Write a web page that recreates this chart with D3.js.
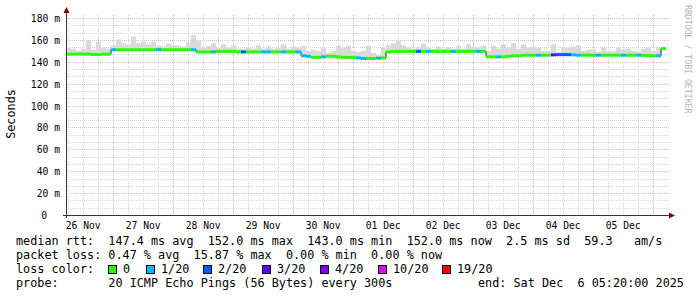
<!DOCTYPE html>
<html>
<head>
<meta charset="utf-8">
<script src="https://cdn.jsdelivr.net/npm/d3@7"></script>
<style>
  html, body { margin: 0; padding: 0; background: #fff; }
  svg { display: block; }
  text { font-family: "DejaVu Sans Mono", monospace; white-space: pre; }
</style>
</head>
<body>
<svg id="chart" width="697" height="297"></svg>
<script>
// graph window ends Sat Dec 6 05:20:00 2025, 240 h shown, one bin = 2 h
var endTime = Date.UTC(2025, 11, 6, 5, 20);
var spanHours = 240;
var binHours = 2;

// median rtt per bin (ms)
var median = [
  147, 147, 147, 147, 147, 146.6, 146.6, 147, 147,
  151, 151, 151, 151, 151, 151, 151, 151, 151, 151, 151, 151, 151, 151, 151, 151, 151,
  149, 149, 149, 149, 149.5, 149.5, 149.5, 149.5, 149, 149, 149, 149, 149, 149, 149, 149, 149, 149, 149, 149, 149,
  145.5, 145, 144, 144, 144.5, 145, 145, 144.5, 144, 144, 144, 143.5, 143, 143, 143, 143.3, 143.5,
  149, 149.5, 149.5, 149.5, 149.5, 149.5, 149.5, 149.5, 149.5, 149.5, 149.5, 149.5, 149.5, 149.5, 149.5, 149.5, 149.5, 149.5, 149.5, 149.5,
  144.5, 144.5, 144.5, 144.5, 145, 145.5, 145.5, 146, 146, 146, 146,
  146, 146, 146.3, 146.5, 146.5, 146.5, 146.3, 146, 146, 146, 146, 146, 146, 146, 146, 146, 146, 146, 146, 146, 145.8, 145.5, 145.5, 145.5, 152
];

// top of the smoke (highest ping) per bin (ms)
var smokeTop = [
  153, 152, 150, 152, 160, 151, 158, 153, 152,
  155, 160.5, 157, 156, 163, 157, 158.5, 156, 158.5, 155, 154, 156.5, 155, 155, 154, 158, 164.5,
  159, 153, 154.6, 157, 153, 156, 153, 155, 152, 152, 153, 152, 155, 152, 154.6, 152, 152.5, 156, 152, 154, 153,
  154.6, 150, 151, 150, 152.4, 148, 150, 154.6, 153, 154.6, 150, 149, 150, 154.6, 148, 146, 152.7,
  155, 157, 159.2, 155, 153, 152, 153, 156.6, 153, 152, 154, 152, 153.5, 152, 154.5, 152, 156, 154, 153, 155,
  150, 154.6, 152, 156, 153, 157, 152, 156, 153, 154, 153,
  150, 150, 156, 149, 153, 153, 154, 155, 150, 151, 151.5, 149, 153, 150, 150, 153, 151, 152, 150, 149, 152, 153, 150, 153.5, 153
];

// lost pings out of 20 per bin
var lossCount = [
  0, 0, 0, 0, 0, 0, 0, 0, 0, 1,
  0, 0, 0, 0, 0, 0, 0, 0, 1, 0,
  0, 0, 0, 0, 0, 1, 0, 0, 0, 1,
  0, 0, 0, 0, 0, 2, 0, 0, 0, 1,
  1, 0, 0, 1, 0, 0, 1, 1, 1, 0,
  0, 1, 0, 0, 0, 0, 0, 0, 1, 1,
  0, 0, 1, 0, 0, 0, 0, 0, 0, 0,
  2, 0, 1, 0, 0, 0, 0, 1, 0, 0,
  0, 0, 1, 0, 0, 0, 1, 0, 0, 0,
  0, 0, 0, 0, 1, 0, 0, 3, 2, 2,
  2, 1, 1, 0, 0, 0, 1, 0, 0, 0,
  0, 1, 0, 0, 1, 0, 0, 0, 1, 0
];

var yTicks = [0, 20, 40, 60, 80, 100, 120, 140, 160, 180];
var yTickLabels = ["0", "20 m", "40 m", "60 m", "80 m", "100 m", "120 m", "140 m", "160 m", "180 m"];

var lossLevels = [0, 1, 2, 3, 4, 10, 19];
var lossLabels = ["0", "1/20", "2/20", "3/20", "4/20", "10/20", "19/20"];
var lossColors = ["#26ff00", "#00b8ff", "#0059ff", "#5e00ff", "#7e00ff", "#dd00ff", "#ff0000"];

var statsRtt = "median rtt:  147.4 ms avg  152.0 ms max  143.0 ms min  152.0 ms now  2.5 ms sd  59.3   am/s";
var statsLoss = "packet loss: 0.47 % avg  15.87 % max  0.00 % min  0.00 % now";
var probeText = "probe:       20 ICMP Echo Pings (56 Bytes) every 300s";
var endText = "end: Sat Dec  6 05:20:00 2025";

var svg = d3.select("#chart");
var startTime = endTime - spanHours * 3600e3;

var x = d3.scaleUtc().domain([startTime, endTime]).range([66, 666]);
var y = d3.scaleLinear().domain([0, 180]).range([215, 18]);
var plotTop = 15, gridRight = 669;

var bins = median.map(function(m, i) {
  var t0 = startTime + i * binHours * 3600e3;
  return { t0: t0, t1: t0 + binHours * 3600e3, med: m, top: smokeTop[i], loss: lossCount[i] };
});

function lossColor(c) {
  var col = lossColors[0];
  lossLevels.forEach(function(l, i) { if (c >= l) col = lossColors[i]; });
  return col;
}
function crisp(v) { return Math.round(v) + 0.5; }

/* grid */
var grid = svg.append("g").attr("class", "grid");
var minorY = d3.range(0, 181, 20 / 3).filter(function(v) { return Math.abs(v / 20 - Math.round(v / 20)) > 0.01; });
grid.selectAll("line.hmin").data(minorY).enter().append("line")
  .attr("x1", 66).attr("x2", gridRight)
  .attr("y1", function(d) { return crisp(y(d)); }).attr("y2", function(d) { return crisp(y(d)); })
  .attr("stroke", "#d8d8d8").attr("stroke-dasharray", "1,1");

var sixHours = d3.utcHour.every(6).range(new Date(startTime), new Date(endTime))
  .filter(function(d) { return d.getUTCHours() != 0; });
grid.selectAll("line.vmin").data(sixHours).enter().append("line")
  .attr("x1", function(d) { return crisp(x(d)); }).attr("x2", function(d) { return crisp(x(d)); })
  .attr("y1", plotTop).attr("y2", 215)
  .attr("stroke", "#d8d8d8").attr("stroke-dasharray", "1,1");

grid.selectAll("line.hmaj").data(yTicks.slice(1)).enter().append("line")
  .attr("x1", 66).attr("x2", gridRight)
  .attr("y1", function(d) { return crisp(y(d)); }).attr("y2", function(d) { return crisp(y(d)); })
  .attr("stroke", "#f0b8b8").attr("stroke-dasharray", "1,1");

var days = d3.utcDay.range(new Date(startTime), new Date(endTime));
grid.selectAll("line.vmaj").data(days).enter().append("line")
  .attr("x1", function(d) { return crisp(x(d)); }).attr("x2", function(d) { return crisp(x(d)); })
  .attr("y1", plotTop).attr("y2", 215)
  .attr("stroke", "#f0b8b8").attr("stroke-dasharray", "1,1");

/* smoke */
svg.append("g").selectAll("rect").data(bins).enter().append("rect")
  .attr("x", function(d) { return x(d.t0); })
  .attr("width", function(d) { return x(d.t1) - x(d.t0); })
  .attr("y", function(d) { return y(d.top); })
  .attr("height", function(d) { return y(d.med) - y(d.top) + 1; })
  .attr("fill", "#dadada");

/* median step line, then loss coloured segments */
var stepPts = bins.map(function(d) { return [d.t0, d.med]; });
stepPts.push([endTime, bins[bins.length - 1].med]);
svg.append("path")
  .attr("d", d3.line().curve(d3.curveStepAfter)
    .x(function(d) { return x(d[0]); }).y(function(d) { return y(d[1]); })(stepPts))
  .attr("fill", "none").attr("stroke", "#222").attr("stroke-width", 1);

svg.append("g").selectAll("rect").data(bins).enter().append("rect")
  .attr("x", function(d) { return x(d.t0); })
  .attr("width", function(d) { return x(d.t1) - x(d.t0); })
  .attr("y", function(d) { return y(d.med) - 1.5; })
  .attr("height", 3)
  .attr("fill", function(d) { return lossColor(d.loss); });

/* axes */
var yAxis = svg.append("g").attr("transform", "translate(60,0)")
  .call(d3.axisLeft(y).tickValues(yTicks).tickSize(0).tickPadding(0)
    .tickFormat(function(d, i) { return yTickLabels[i]; }));
yAxis.select(".domain").remove();
yAxis.selectAll("text").attr("font-family", "DejaVu Sans Mono").attr("font-size", 9.7)
  .attr("fill", "#000").attr("dy", "0.36em")
  .attr("x", function(d) { return d == 0 ? -13 : 0; });

var noons = days.concat([new Date(startTime)]).map(function(d) {
  return d3.utcDay.floor(d).getTime() + 12 * 3600e3;
}).filter(function(t, i, a) { return a.indexOf(t) == i && t > startTime && t < endTime; })
  .sort(d3.ascending);
var xAxis = svg.append("g").attr("transform", "translate(0,215)")
  .call(d3.axisBottom(x).tickValues(noons).tickSize(0).tickPadding(0)
    .tickFormat(d3.utcFormat("%d %b")));
xAxis.select(".domain").remove();
xAxis.selectAll("text").attr("font-family", "DejaVu Sans Mono").attr("font-size", 9.7)
  .attr("fill", "#000").attr("dy", null).attr("y", 13.5);

svg.append("line").attr("x1", 63).attr("x2", 670).attr("y1", 215.5).attr("y2", 215.5)
  .attr("stroke", "#333");
svg.append("line").attr("x1", 66.5).attr("x2", 66.5).attr("y1", 218).attr("y2", 12)
  .attr("stroke", "#333");
svg.append("path").attr("d", "M63.5,13L69.5,13L66.5,7Z").attr("fill", "#7f0000");
svg.append("path").attr("d", "M669,212.5L669,218.5L675,215.5Z").attr("fill", "#7f0000");

/* titles */
svg.append("text").attr("transform", "translate(15,114) rotate(-90)")
  .attr("text-anchor", "middle").attr("font-size", 11.8).text("Seconds");
svg.append("text").attr("transform", "translate(685,5) rotate(90)")
  .attr("font-size", 8.2).attr("fill", "#b4b4b4").text("RRDTOOL / TOBI OETIKER");

/* legend */
var legend = svg.append("g").attr("font-size", 11.8).attr("fill", "#000");
legend.append("text").attr("x", 16).attr("y", 245).text(statsRtt);
legend.append("text").attr("x", 16).attr("y", 259).text(statsLoss);
legend.append("text").attr("x", 16).attr("y", 273).text("loss color:");
legend.append("text").attr("x", 16).attr("y", 287).text(probeText);
legend.append("text").attr("x", 478).attr("y", 287).text(endText);

var legendBoxX = [108, 145.7, 203, 261.7, 320, 377.7, 442.3];
var items = legend.selectAll("g.item").data(lossLabels).enter().append("g")
  .attr("transform", function(d, i) { return "translate(" + Math.round(legendBoxX[i]) + ",0)"; });
items.append("rect").attr("x", 0.5).attr("y", 265.5).attr("width", 8).attr("height", 8)
  .attr("fill", function(d, i) { return lossColors[i]; }).attr("stroke", "#000");
items.append("text").attr("x", 15).attr("y", 273).text(function(d) { return d; });
</script>
</body>
</html>
